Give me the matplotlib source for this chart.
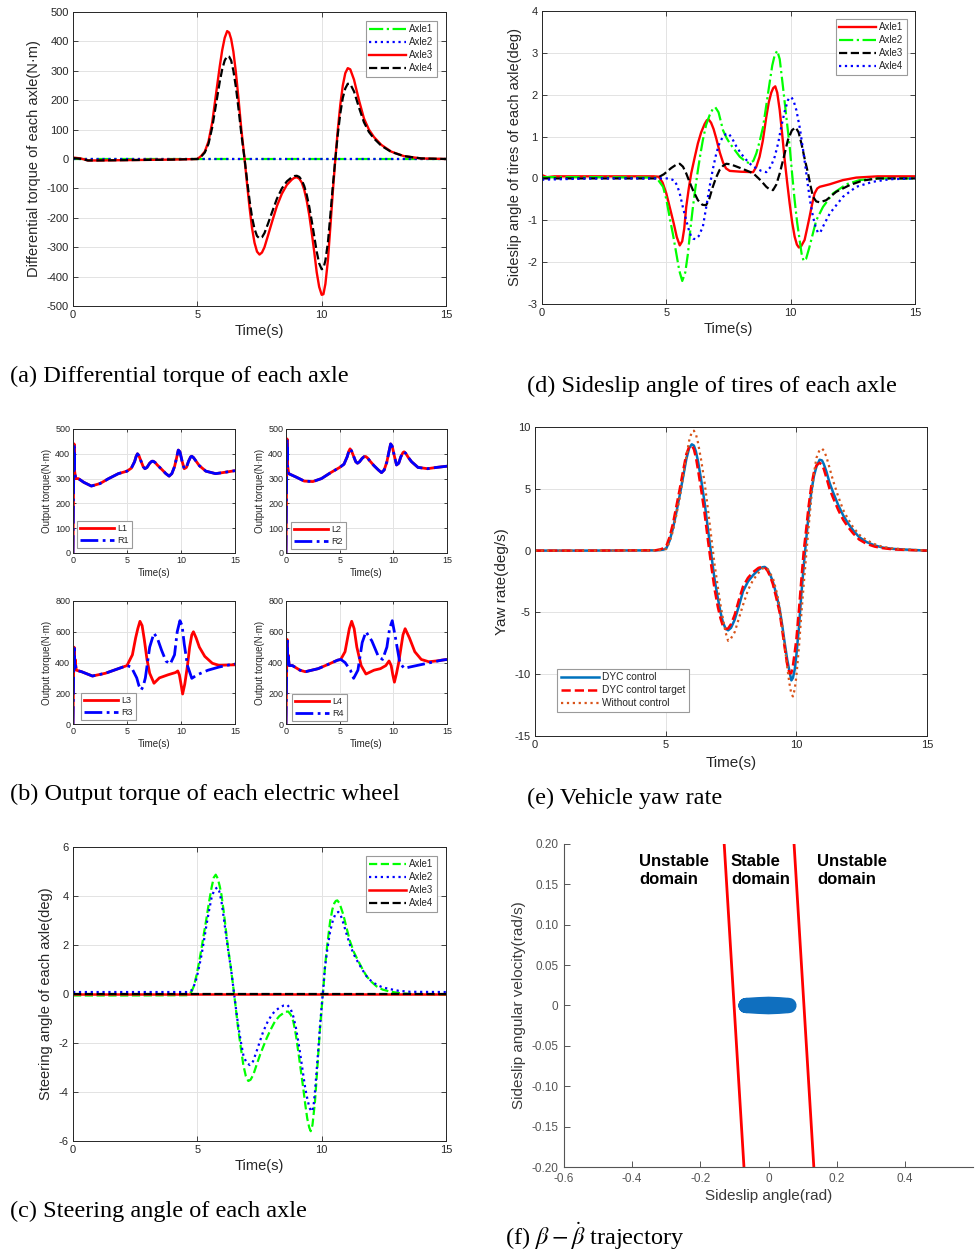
import matplotlib
matplotlib.use("Agg")
import matplotlib.pyplot as plt

plt.rcParams["font.family"] = ["Liberation Sans", "DejaVu Sans"]
plt.rcParams["mathtext.fontset"] = "stix"
plt.rcParams["axes.unicode_minus"] = False

# ---------------------------
# DATA
# ---------------------------
# (a) differential torque of each axle, N*m
A_TIME = [0, 0.3, 0.6, 1.0, 2.0, 3.0, 4.0, 5.0, 5.15, 5.3, 5.45, 5.6, 5.75, 5.9,
          6.0, 6.1, 6.2, 6.28, 6.36, 6.45, 6.55, 6.65, 6.77, 6.9, 7.0, 7.1, 7.2,
          7.3, 7.4, 7.5, 7.6, 7.7, 7.85, 8.0, 8.2, 8.4, 8.6, 8.8, 8.9, 9.0, 9.1,
          9.2, 9.3, 9.4, 9.5, 9.6, 9.7, 9.8, 9.9, 10.0, 10.07, 10.15, 10.25,
          10.35, 10.45, 10.55, 10.65, 10.75, 10.85, 10.95, 11.05, 11.15, 11.3,
          11.5, 11.7, 11.9, 12.1, 12.4, 12.8, 13.3, 14.0, 15.0]
A_AXLE3 = [5, 2, -5, -5, -4, -3, -2, 0, 10, 25, 60, 125, 220, 314,
           370, 412, 435, 430, 408, 365, 295, 210, 100, 0, -85, -165, -235,
           -285, -315, -325, -318, -300, -258, -215, -160, -118, -88, -70, -64, -62, -67,
           -80, -105, -142, -190, -250, -315, -385, -435, -462, -460, -425, -345,
           -230, -110, 0, 100, 185, 250, 292, 309, 305, 270,
           200, 138, 100, 75, 48, 25, 10, 2, 0]
A_AXLE4 = [3, 1, -5, -5, -4, -3, -2, 0, 8, 22, 52, 108, 185, 262,
           305, 335, 350, 348, 335, 300, 245, 175, 85, 0, -72, -140, -198,
           -238, -262, -270, -266, -252, -218, -182, -135, -100, -76, -62, -58, -57, -61,
           -72, -92, -122, -162, -210, -262, -315, -355, -375, -372, -345, -285,
           -190, -90, 0, 85, 155, 208, 240, 256, 255, 230,
           175, 125, 92, 70, 45, 24, 10, 2, 0]
A_ZERO_T = [0, 15]
A_ZERO = [0, 0]

# (d) sideslip angle of tires, deg
D_T1 = [0, 0.2, 0.5, 2, 4.5, 4.7, 4.85, 5.0, 5.15, 5.3, 5.42, 5.54, 5.64, 5.72,
        5.8, 5.9, 6.0, 6.14, 6.27, 6.4, 6.54, 6.63, 6.7, 6.8, 6.9, 7.01, 7.15,
        7.28, 7.4, 7.55, 8.0, 8.49, 8.62, 8.75, 8.88, 9.02, 9.12, 9.22, 9.3, 9.38,
        9.46, 9.56, 9.66, 9.76, 9.86, 9.96, 10.06, 10.16, 10.25, 10.33, 10.42,
        10.56, 10.66, 10.76, 10.86, 10.96, 11.07, 11.17, 11.57, 12.1, 12.64, 13.5,
        15.0]
D_AXLE1 = [0.08, 0.03, 0.05, 0.05, 0.05, 0.04, -0.1, -0.36, -0.72, -1.08, -1.4,
           -1.6, -1.5, -1.2, -0.68, -0.25, 0.12, 0.5, 0.84, 1.1, 1.3, 1.39, 1.41,
           1.33, 1.18, 0.95, 0.62, 0.38, 0.24, 0.18, 0.16, 0.15, 0.28, 0.52, 0.9,
           1.47, 1.82, 2.05, 2.16, 2.2, 2.05, 1.63, 1.05, 0.44, -0.1, -0.6, -1.05,
           -1.39, -1.58, -1.65, -1.62, -1.47, -1.2, -0.92, -0.62, -0.36, -0.24,
           -0.2, -0.14, -0.04, 0.02, 0.05, 0.05]
D_T2 = [0, 2, 4.6, 4.87, 5.0, 5.13, 5.27, 5.4, 5.52, 5.64, 5.76, 5.87, 5.97, 6.07,
        6.17, 6.27, 6.37, 6.47, 6.6, 6.74, 6.86, 6.97, 7.1, 7.28, 7.42, 7.55, 7.95,
        8.2, 8.35, 8.5, 8.62, 8.75, 8.89, 9.02, 9.15, 9.26, 9.36, 9.46, 9.56, 9.69,
        9.83, 9.96, 10.06, 10.16, 10.26, 10.36, 10.44, 10.52, 10.62, 10.76, 10.9,
        11.03, 11.3, 11.7, 12.24, 12.77, 13.5, 15.0]
D_AXLE2 = [0.03, 0.03, 0.02, -0.2, -0.5, -0.92, -1.35, -1.79, -2.2, -2.45, -2.25,
           -1.79, -1.2, -0.68, -0.22, 0.2, 0.58, 0.92, 1.28, 1.51, 1.65, 1.7, 1.58,
           1.15, 0.97, 0.84, 0.52, 0.4, 0.36, 0.42, 0.6, 0.88, 1.23, 1.75, 2.27,
           2.7, 2.95, 3.05, 2.85, 2.19, 1.45, 0.76, 0.1, -0.52, -1.05, -1.47, -1.8,
           -1.97, -1.92, -1.63, -1.3, -1.0, -0.68, -0.36, -0.14, -0.04, 0.0, 0.0]
D_T3 = [0, 2, 4.6, 4.9, 5.2, 5.4, 5.54, 5.67, 5.8, 5.93, 6.07, 6.27, 6.45, 6.6,
        6.73, 6.87, 7.0, 7.14, 7.28, 7.41, 7.55, 7.75, 8.1, 8.5, 8.8, 9.02, 9.15,
        9.29, 9.42, 9.56, 9.72, 9.89, 10.05, 10.2, 10.32, 10.43, 10.57, 10.7, 10.8,
        10.9, 11.03, 11.17, 11.43, 11.83, 12.37, 12.9, 13.5, 15.0]
D_AXLE3 = [0.0, 0.0, 0.0, 0.1, 0.25, 0.33, 0.35, 0.28, 0.12, -0.08, -0.28, -0.52,
           -0.63, -0.64, -0.48, -0.2, 0.02, 0.2, 0.3, 0.35, 0.34, 0.3, 0.22, 0.12,
           -0.05, -0.2, -0.26, -0.28, -0.15, 0.12, 0.5, 0.92, 1.15, 1.22, 1.1, 0.84,
           0.45, 0.12, -0.18, -0.44, -0.55, -0.57, -0.52, -0.32, -0.16, -0.05, 0.0,
           0.0]
D_T4 = [0, 2, 5.1, 5.33, 5.44, 5.54, 5.67, 5.8, 5.9, 6.0, 6.08, 6.17, 6.3, 6.47,
        6.6, 6.74, 6.87, 7.01, 7.14, 7.28, 7.4, 7.51, 7.65, 7.82, 8.02, 8.22, 8.42,
        8.62, 8.82, 9.02, 9.2, 9.36, 9.5, 9.62, 9.76, 9.89, 9.96, 10.03, 10.12,
        10.23, 10.37, 10.5, 10.6, 10.7, 10.8, 10.9, 11.0, 11.1, 11.2, 11.3, 11.57,
        12.1, 12.64, 13.31, 13.98, 15.0]
D_AXLE4 = [-0.03, 0.0, 0.0, -0.05, -0.18, -0.36, -0.7, -1.0, -1.22, -1.39, -1.44,
           -1.45, -1.38, -1.15, -0.7, -0.2, 0.22, 0.6, 0.85, 1.0, 1.06, 1.07, 0.95,
           0.76, 0.58, 0.44, 0.32, 0.24, 0.18, 0.15, 0.28, 0.52, 0.85, 1.23, 1.6,
           1.87, 1.93, 1.94, 1.85, 1.63, 1.2, 0.68, 0.25, -0.2, -0.6, -0.92, -1.15,
           -1.3, -1.28, -1.15, -0.84, -0.44, -0.2, -0.08, -0.02, 0.0]

# (b) output torque of each electric wheel, N*m
B_T12 = [0, 0.05, 0.1, 0.15, 0.25, 0.5, 1.0, 1.7, 2.5, 3.3, 4.2, 5.0, 5.4, 5.7,
         5.85, 5.97, 6.1, 6.3, 6.5, 6.66, 6.85, 7.1, 7.3, 7.43, 7.6, 7.8, 8.2, 8.6,
         8.9, 9.15, 9.4, 9.6, 9.75, 9.9, 10.1, 10.3, 10.5, 10.7, 10.9, 11.0, 11.15,
         11.4, 11.7, 12.3, 13.2, 14.0, 15.0]
B_L1 = [0, 250, 440, 330, 300, 300, 285, 270, 280, 300, 320, 330, 342, 368, 390,
        400, 393, 370, 348, 340, 345, 362, 370, 370, 365, 355, 338, 320, 310, 320,
        348, 385, 415, 408, 370, 340, 345, 370, 388, 390, 385, 370, 352, 330, 320,
        325, 332]
B_R1 = list(B_L1)  # R1 lies right on top of L1
B_L2 = [0, 270, 460, 350, 320, 315, 305, 290, 288, 300, 325, 345, 358, 388, 410,
        420, 412, 390, 368, 362, 368, 382, 389, 389, 383, 372, 352, 335, 324, 335,
        368, 410, 440, 430, 390, 355, 362, 388, 405, 408, 402, 385, 368, 345, 340,
        345, 350]
B_R2 = list(B_L2)
B_T3L = [0, 0.05, 0.1, 0.15, 0.2, 0.3, 0.8, 1.8, 3.0, 4.2, 5.0, 5.5, 5.8, 6.0,
         6.2, 6.4, 6.6, 6.85, 7.1, 7.5, 8.0, 8.8, 9.5, 9.7, 9.85, 10.0, 10.15,
         10.35, 10.6, 10.8, 11.0, 11.15, 11.4, 11.7, 12.2, 12.9, 13.5, 15.0]
B_L3 = [0, 300, 500, 380, 420, 350, 340, 312, 330, 360, 380, 450, 560, 620, 668,
        640, 550, 420, 330, 265, 300, 320, 335, 345, 320, 260, 195, 260, 380, 500,
        580, 600, 560, 500, 440, 395, 382, 385]
B_T3R = [0, 0.05, 0.1, 0.15, 0.2, 0.3, 0.8, 1.8, 3.0, 4.2, 5.0, 5.4, 5.9, 6.1,
         6.31, 6.5, 6.7, 7.1, 7.49, 7.8, 8.2, 8.6, 9.0, 9.4, 9.65, 9.9, 10.1, 10.3,
         10.6, 11.0, 11.5, 12.5, 13.5, 14.5, 15.0]
B_R3 = [0, 280, 510, 360, 400, 350, 340, 312, 330, 360, 380, 370, 300, 250, 221,
        245, 300, 500, 590, 560, 480, 410, 390, 450, 600, 672, 640, 520, 380, 297,
        320, 350, 370, 385, 390]
B_T4L = [0, 0.05, 0.1, 0.15, 0.2, 0.3, 0.6, 1.3, 1.8, 3.0, 4.0, 4.8, 5.1, 5.5,
         5.9, 6.12, 6.35, 6.6, 7.0, 7.45, 8.2, 8.8, 9.3, 9.6, 9.8, 9.95, 10.1,
         10.3, 10.5, 10.9, 11.1, 11.5, 12.0, 12.6, 13.3, 14.0, 15.0]
B_L4 = [0, 300, 550, 400, 450, 380, 380, 350, 340, 360, 390, 415, 420, 470, 620,
        668, 620, 500, 380, 325, 350, 360, 380, 410, 380, 320, 272, 330, 400, 580,
        620, 560, 470, 420, 405, 410, 420]
B_T4R = [0, 0.05, 0.1, 0.15, 0.2, 0.3, 0.6, 1.3, 1.8, 3.0, 4.0, 4.8, 5.1, 5.5,
         6.0, 6.3, 6.7, 7.1, 7.45, 8.0, 8.6, 9.0, 9.4, 9.65, 9.9, 10.2, 10.6, 11.0,
         11.5, 12.5, 13.5, 14.5, 15.0]
B_R4 = [0, 280, 560, 390, 440, 380, 380, 350, 340, 360, 390, 415, 420, 400, 350,
        297, 350, 530, 600, 540, 440, 420, 500, 620, 672, 560, 400, 362, 370, 385,
        400, 415, 420]

# (e) vehicle yaw rate, deg/s
E_TIME = [0, 2, 4.6, 4.8, 4.92, 5.03, 5.15, 5.28, 5.41, 5.54, 5.67, 5.79, 5.9,
          6.0, 6.08, 6.16, 6.24, 6.36, 6.49, 6.62, 6.75, 6.87, 7.0, 7.1, 7.19,
          7.29, 7.39, 7.5, 7.64, 7.8, 7.96, 8.15, 8.34, 8.55, 8.7, 8.79, 8.9, 9.0,
          9.1, 9.23, 9.36, 9.45, 9.55, 9.65, 9.74, 9.81, 9.87, 9.94, 10.0, 10.1,
          10.19, 10.28, 10.38, 10.47, 10.57, 10.67, 10.77, 10.89, 10.98, 11.05,
          11.15, 11.27, 11.4, 11.6, 11.79, 11.98, 12.17, 12.4, 12.68, 13.0, 13.3,
          13.7, 14.2, 15.0]
E_DYC = [0, 0, 0.02, 0.05, 0.08, 0.2, 0.8, 1.8, 3.1, 4.5, 6.0, 7.4, 8.3,
         8.6, 8.5, 8.0, 7.2, 5.7, 3.9, 1.7, -0.4, -2.3, -3.9, -5.0, -5.8,
         -6.3, -6.45, -6.25, -5.6, -4.5, -3.3, -2.5, -2.0, -1.55, -1.35, -1.32, -1.5, -1.95,
         -2.5, -3.5, -4.7, -5.9, -7.4, -8.8, -9.8, -10.5, -10.3, -9.6, -8.5, -6.2,
         -3.6, -1.3, 0.97, 2.9, 4.7, 6.0, 6.8, 7.35, 7.3, 7.0,
         6.4, 5.5, 4.75, 3.7, 2.86, 2.2, 1.65, 1.1, 0.7, 0.42, 0.25,
         0.14, 0.08, 0.0]
E_TARGET = [0, 0, 0.02, 0.1, 0.2, 0.4, 1.1, 2.2, 3.6, 5.0, 6.5, 7.8, 8.4,
            8.5, 8.2, 7.5, 6.5, 4.9, 3.0, 0.8, -1.3, -3.1, -4.6, -5.5, -6.1,
            -6.35, -6.3, -5.95, -5.2, -4.0, -2.9, -2.2, -1.75, -1.4, -1.3, -1.35, -1.65, -2.1,
            -2.7, -3.8, -5.0, -6.3, -7.8, -9.2, -9.95, -9.9, -9.3, -8.2, -7.2, -4.8,
            -2.4, -0.1, 1.8, 3.6, 5.2, 6.3, 6.9, 7.1, 6.95, 6.6,
            5.9, 5.0, 4.3, 3.3, 2.5, 1.9, 1.4, 0.9, 0.55, 0.32, 0.2,
            0.1, 0.05, 0.0]
E_NOCTRL = [0, 0, 0.02, 0.05, 0.07, 0.15, 0.7, 1.6, 2.9, 4.3, 6.0, 7.6, 8.9,
            9.6, 9.7, 9.4, 8.7, 7.3, 5.5, 3.3, 1.0, -1.1, -3.0, -4.4, -5.5,
            -6.6, -7.3, -7.1, -6.6, -5.5, -4.4, -3.2, -2.4, -1.8, -1.45, -1.4, -1.5, -1.85,
            -2.2, -3.2, -4.5, -5.9, -7.6, -9.4, -10.8, -11.6, -11.8, -11.2, -10.2, -7.8,
            -5.2, -2.8, -0.3, 1.9, 4.2, 6.2, 7.5, 8.15, 8.25, 8.1,
            7.6, 6.7, 5.7, 4.4, 3.3, 2.55, 1.9, 1.3, 0.85, 0.52, 0.3,
            0.17, 0.1, 0.0]

# (c) steering angle of each axle, deg
C_T1 = [0, 2, 4.6, 4.77, 4.87, 4.97, 5.07, 5.17, 5.27, 5.37, 5.47, 5.57, 5.66,
        5.74, 5.82, 5.9, 5.97, 6.07, 6.17, 6.26, 6.35, 6.48, 6.56, 6.64, 6.75,
        6.85, 6.95, 7.05, 7.14, 7.25, 7.38, 7.52, 7.65, 7.79, 7.95, 8.12, 8.3,
        8.46, 8.56, 8.66, 8.76, 8.86, 8.96, 9.06, 9.16, 9.26, 9.34, 9.42, 9.5,
        9.56, 9.63, 9.73, 9.8, 9.87, 9.93, 10.0, 10.07, 10.13, 10.23, 10.34, 10.43,
        10.51, 10.57, 10.63, 10.72, 10.87, 11.0, 11.14, 11.3, 11.48, 11.65, 11.81,
        12.0, 12.21, 12.45, 12.75, 13.1, 13.56, 15.0]
C_AXLE1 = [-0.06, -0.06, -0.05, 0.1, 0.35, 0.78, 1.3, 1.87, 2.5, 3.1, 3.75, 4.33,
           4.75, 4.87, 4.72, 4.4, 4.05, 3.3, 2.42, 1.7, 1.06, 0.0, -0.7, -1.4, -2.2,
           -2.9, -3.35, -3.55, -3.5, -3.3, -2.9, -2.49, -2.15, -1.8, -1.45, -1.12,
           -0.9, -0.78, -0.72, -0.72, -0.85, -1.12, -1.65, -2.35, -3.1, -3.85, -4.5,
           -5.08, -5.45, -5.6, -5.35, -4.4, -3.4, -2.35, -1.45, -0.58, 0.25, 1.06,
           2.05, 2.96, 3.45, 3.71, 3.8, 3.82, 3.7, 3.24, 2.7, 2.15, 1.7, 1.33, 1.0,
           0.72, 0.5, 0.31, 0.18, 0.1, 0.04, 0.0, -0.03]
C_T2 = [0, 2, 4.6, 4.77, 4.87, 4.97, 5.07, 5.17, 5.27, 5.37, 5.47, 5.57, 5.68,
        5.8, 5.88, 5.97, 6.07, 6.17, 6.26, 6.35, 6.48, 6.56, 6.64, 6.75, 6.85,
        6.97, 7.11, 7.24, 7.38, 7.51, 7.65, 7.82, 7.99, 8.15, 8.32, 8.47, 8.62,
        8.75, 8.86, 8.96, 9.06, 9.16, 9.26, 9.34, 9.42, 9.51, 9.6, 9.67, 9.73, 9.8,
        9.87, 9.93, 10.0, 10.07, 10.13, 10.23, 10.34, 10.45, 10.56, 10.67, 10.77,
        10.87, 11.0, 11.14, 11.3, 11.48, 11.65, 11.81, 12.0, 12.21, 12.45, 12.75,
        13.1, 13.56, 15.0]
C_AXLE2 = [0.08, 0.08, 0.08, 0.15, 0.35, 0.65, 1.1, 1.6, 2.2, 2.83, 3.4, 3.92,
           4.25, 4.35, 4.2, 3.78, 3.05, 2.28, 1.65, 1.06, 0.0, -0.65, -1.26, -1.95,
           -2.49, -2.8, -2.9, -2.75, -2.35, -1.95, -1.53, -1.15, -0.85, -0.67, -0.55,
           -0.47, -0.45, -0.6, -0.92, -1.35, -1.94, -2.6, -3.3, -3.85, -4.26, -4.65,
           -4.8, -4.6, -3.99, -3.1, -2.2, -1.35, -0.5, 0.3, 1.06, 1.85, 2.55, 3.0,
           3.28, 3.35, 3.2, 2.9, 2.45, 2.0, 1.6, 1.26, 0.97, 0.72, 0.52, 0.38, 0.27,
           0.2, 0.13, 0.09, 0.08]

# (f) beta - beta_dot phase plane
F_BETA = [-0.066, -0.03, 0.0, 0.03, 0.06, 0.03, 0.0, -0.03, -0.066]
F_BETA_DOT = [0.0, 0.001, 0.0015, 0.001, 0.0, -0.001, -0.0015, -0.001, 0.0]
F_LEFT_BETA = [-0.13, -0.072]
F_RIGHT_BETA = [0.075, 0.133]
F_BOUND_RATE = [0.20, -0.20]
F_YTICKS = [-0.20, -0.15, -0.10, -0.05, 0, 0.05, 0.10, 0.15, 0.20]
F_YLABELS = ["-0.20", "-0.15", "-0.10", "-0.05", "0", "0.05", "0.10", "0.15", "0.20"]
F_XTICKS = [-0.6, -0.4, -0.2, 0, 0.2, 0.4]

TIME_TICKS = [0, 5, 10, 15]

# ---------------------------
# HELPERS
# ---------------------------
W, H = 976, 1253
fig = plt.figure(figsize=(W / 100, H / 100), dpi=100)
INK = "#262626"


def box(l, t, r, b):
    # axes from pixel edges (top-left origin)
    return fig.add_axes([l / W, 1 - b / H, (r - l) / W, (b - t) / H])


def matlab_style(ax, size=8):
    ax.tick_params(direction="in", top=True, right=True, length=3.5, width=0.6,
                   labelsize=size, colors=INK, pad=3)
    for s in ax.spines.values():
        s.set_linewidth(0.7)
        s.set_color(INK)
    ax.grid(True, color="#e3e3e3", linewidth=0.7)
    ax.set_axisbelow(True)


def legend_at(ax, corner, loc, fs):
    leg = ax.legend(loc=loc, bbox_to_anchor=(corner[0] / W, 1 - corner[1] / H),
                    bbox_transform=fig.transFigure, borderaxespad=0, fontsize=fs,
                    frameon=True, fancybox=False, framealpha=1, edgecolor="#9a9a9a",
                    handlelength=3.8, borderpad=0.35, labelspacing=0.3,
                    handletextpad=0.3)
    leg.get_frame().set_linewidth(0.8)
    for t in leg.get_texts():
        t.set_color(INK)


def caption(x, y, s):
    fig.text(x / W, 1 - y / H, s, fontsize=17.5, family="Liberation Serif",
             va="baseline", ha="left")


# ---------------------------
# (a) DIFFERENTIAL TORQUE
# ---------------------------
ax = box(73, 12, 446, 306)
ax.plot(A_ZERO_T, A_ZERO, color="#00ff00", ls="-.", lw=1.6, label="Axle1")
ax.plot(A_ZERO_T, A_ZERO, color="#0000ff", ls=":", lw=1.6, label="Axle2")
ax.plot(A_TIME, A_AXLE3, color="#ff0000", ls="-", lw=1.7, label="Axle3")
ax.plot(A_TIME, A_AXLE4, color="black", ls="--", lw=1.6, label="Axle4")
ax.set_xlim(0, 15)
ax.set_ylim(-500, 500)
ax.set_xticks(TIME_TICKS)
ax.set_yticks(range(-500, 501, 100))
matlab_style(ax)
ax.set_xlabel("Time(s)", fontsize=10.5, color=INK, labelpad=3)
ax.set_ylabel("Differential torque of each axle(N·m)", fontsize=10.5, color=INK)
legend_at(ax, (437, 21), "upper right", 7)
caption(10, 382, "(a) Differential torque of each axle")

# ---------------------------
# (d) SIDESLIP ANGLE OF TIRES
# ---------------------------
ax = box(542, 11, 915, 304)
ax.plot(D_T1, D_AXLE1, color="#ff0000", ls="-", lw=1.7, label="Axle1")
ax.plot(D_T2, D_AXLE2, color="#00ff00", ls="-.", lw=1.6, label="Axle2")
ax.plot(D_T3, D_AXLE3, color="black", ls="--", lw=1.6, label="Axle3")
ax.plot(D_T4, D_AXLE4, color="#0000ff", ls=":", lw=1.6, label="Axle4")
ax.set_xlim(0, 15)
ax.set_ylim(-3, 4)
ax.set_xticks(TIME_TICKS)
ax.set_yticks(range(-3, 5))
matlab_style(ax)
ax.set_xlabel("Time(s)", fontsize=10.5, color=INK, labelpad=3)
ax.set_ylabel("Sideslip angle of tires of each axle(deg)", fontsize=10.5, color=INK)
legend_at(ax, (907, 19), "upper right", 7)
caption(527, 392, "(d) Sideslip angle of tires of each axle")

# ---------------------------
# (b) OUTPUT TORQUE, 2x2
# ---------------------------
wheels = [
    ((73, 429, 235, 553), B_T12, B_L1, B_T12, B_R1, "L1", "R1", 500, (77, 548)),
    ((286, 429, 447, 553), B_T12, B_L2, B_T12, B_R2, "L2", "R2", 500, (291, 549)),
    ((73, 601, 235, 724), B_T3L, B_L3, B_T3R, B_R3, "L3", "R3", 800, (81, 720)),
    ((286, 601, 447, 724), B_T4L, B_L4, B_T4R, B_R4, "L4", "R4", 800, (292, 721)),
]
for edges, tl, left, tr, right, nl, nr, top, corner in wheels:
    ax = box(*edges)
    ax.plot(tl, left, color="#ff0000", ls="-", lw=2.0, label=nl)
    ax.plot(tr, right, color="#0000ff", ls="-.", lw=2.0, label=nr)
    ax.set_xlim(0, 15)
    ax.set_ylim(0, top)
    ax.set_xticks(TIME_TICKS)
    ax.set_yticks(range(0, top + 1, 100 if top == 500 else 200))
    matlab_style(ax, size=6.5)
    ax.tick_params(length=2.5, pad=2)
    ax.set_xlabel("Time(s)", fontsize=7, color=INK, labelpad=2)
    ax.set_ylabel("Output torque(N·m)", fontsize=7, color=INK, labelpad=2)
    legend_at(ax, corner, "lower left", 6.5)
caption(10, 800, "(b) Output torque of each electric wheel")

# ---------------------------
# (e) YAW RATE
# ---------------------------
ax = box(535, 427, 927, 736)
ax.plot(E_TIME, E_DYC, color="#0072bd", ls="-", lw=1.8, label="DYC control")
ax.plot(E_TIME, E_TARGET, color="#ff0000", ls="--", lw=1.8, label="DYC control target")
ax.plot(E_TIME, E_NOCTRL, color="#d95319", ls=":", lw=1.6, label="Without control")
ax.set_xlim(0, 15)
ax.set_ylim(-15, 10)
ax.set_xticks(TIME_TICKS)
ax.set_yticks(range(-15, 11, 5))
matlab_style(ax)
ax.set_xlabel("Time(s)", fontsize=11, color=INK, labelpad=4)
ax.set_ylabel("Yaw rate(deg/s)", fontsize=11, color=INK)
legend_at(ax, (557, 712), "lower left", 7.3)
caption(527, 804, "(e) Vehicle yaw rate")

# ---------------------------
# (c) STEERING ANGLE
# ---------------------------
ax = box(73, 847, 446, 1141)
ax.plot(C_T1, C_AXLE1, color="#00ff00", ls="--", lw=1.6, label="Axle1")
ax.plot(C_T2, C_AXLE2, color="#0000ff", ls=":", lw=1.6, label="Axle2")
ax.plot(A_ZERO_T, A_ZERO, color="#ff0000", ls="-", lw=1.8, label="Axle3")
ax.plot(A_ZERO_T, A_ZERO, color="black", ls="--", lw=1.6, label="Axle4")
ax.set_xlim(0, 15)
ax.set_ylim(-6, 6)
ax.set_xticks(TIME_TICKS)
ax.set_yticks(range(-6, 7, 2))
matlab_style(ax)
ax.set_xlabel("Time(s)", fontsize=10.5, color=INK, labelpad=3)
ax.set_ylabel("Steering angle of each axle(deg)", fontsize=10.5, color=INK)
legend_at(ax, (437, 856), "upper right", 7)
caption(10, 1217, "(c) Steering angle of each axle")

# ---------------------------
# (f) PHASE PLANE
# ---------------------------
GREY = "#555555"
ax = box(564, 844, 973, 1167)
ax.plot(F_LEFT_BETA, F_BOUND_RATE, color="#ff0000", lw=2.0)
ax.plot(F_RIGHT_BETA, F_BOUND_RATE, color="#ff0000", lw=2.0)
ax.plot(F_BETA, F_BETA_DOT, color="#0f6fbf", lw=11, solid_capstyle="round",
        solid_joinstyle="round")
ax.set_xlim(-0.6, 0.6)
ax.set_ylim(-0.2, 0.2)
ax.set_xticks(F_XTICKS)
ax.set_xticklabels(["-0.6", "-0.4", "-0.2", "0", "0.2", "0.4"])
ax.set_yticks(F_YTICKS)
ax.set_yticklabels(F_YLABELS)
for side in ("top", "right"):
    ax.spines[side].set_visible(False)
for side in ("left", "bottom"):
    ax.spines[side].set_color(GREY)
    ax.spines[side].set_linewidth(0.8)
ax.tick_params(direction="in", length=4, width=0.7, labelsize=8.5, colors=GREY, pad=4)
ax.set_xlabel("Sideslip angle(rad)", fontsize=11, color="#3a3a3a", labelpad=3)
ax.set_ylabel("Sideslip angular velocity(rad/s)", fontsize=11, color="#3a3a3a")
for x, s in [(-0.38, "Unstable\ndomain"), (-0.11, "Stable\ndomain"),
             (0.143, "Unstable\ndomain")]:
    ax.text(x, 0.188, s, fontsize=12, fontweight="bold", va="top", ha="left",
            linespacing=1.3, color="black")
caption(505, 1245, r"(f) $\beta - \dot{\beta}$ trajectory")

fig.savefig("out.png", dpi=100)
plt.close(fig)
